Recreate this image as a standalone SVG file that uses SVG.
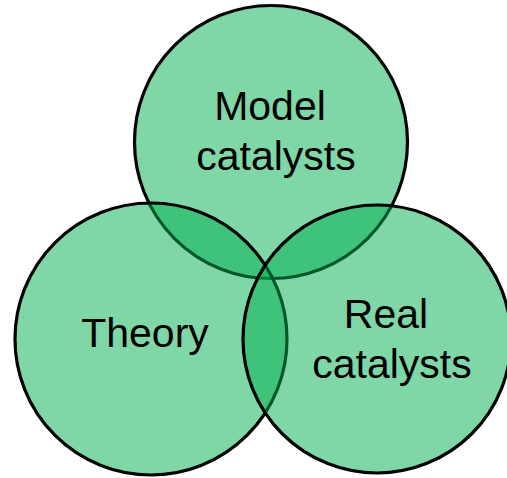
<svg xmlns="http://www.w3.org/2000/svg" width="507" height="478" viewBox="0 0 507 478">
  <style>
    .set { fill: #00B050; fill-opacity: 0.5; stroke: #000000; stroke-width: 3.2; }
    .label { font-family: "Liberation Sans", Arial, sans-serif; font-size: 41px; fill: #000000; text-anchor: middle; }
  </style>
  <rect width="507" height="478" fill="#ffffff"/>
  <!-- Three overlapping sets; later circles tint the outlines of earlier ones -->
  <g id="model-catalysts">
    <circle class="set" cx="271" cy="142" r="136.5"/>
    <text class="label" x="270" y="120">Model</text>
    <text class="label" x="276" y="170">catalysts</text>
  </g>
  <g id="theory">
    <circle class="set" cx="151" cy="339" r="136"/>
    <text class="label" x="145" y="347">Theory</text>
  </g>
  <g id="real-catalysts">
    <circle class="set" cx="377" cy="339" r="134"/>
    <text class="label" x="386" y="328">Real</text>
    <text class="label" x="392" y="378">catalysts</text>
  </g>
  <g id="connectors"/>
</svg>
